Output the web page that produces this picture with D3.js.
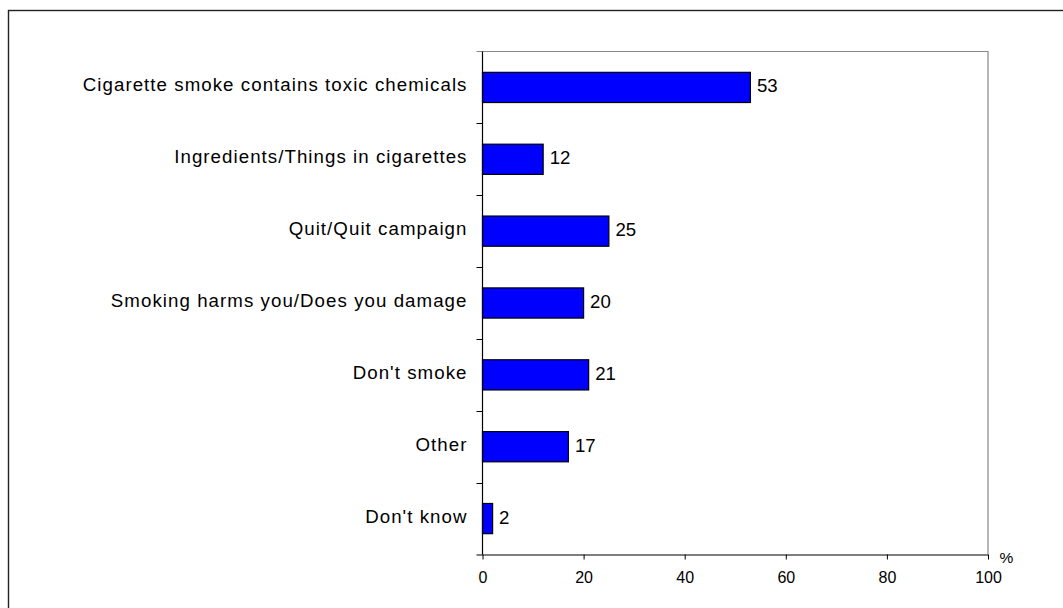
<!DOCTYPE html>
<html>
<head>
<meta charset="utf-8">
<script src="https://cdn.jsdelivr.net/npm/d3@7"></script>
<style>
  html, body { margin: 0; padding: 0; background: #fff; }
  svg { display: block; }
  text { font-family: "Liberation Sans", Arial, sans-serif; }
</style>
</head>
<body>
<svg id="chart" width="1063" height="608"></svg>
<script>
const categories = [
  "Cigarette smoke contains toxic chemicals",
  "Ingredients/Things in cigarettes",
  "Quit/Quit campaign",
  "Smoking harms you/Does you damage",
  "Don't smoke",
  "Other",
  "Don't know"
];
const values = [53, 12, 25, 20, 21, 17, 2];
const xTicks = [0, 20, 40, 60, 80, 100];
const unitLabel = "%";

(function () {
const svg = d3.select("#chart");
const pL = 482.5, pR = 988, pT = 51.5, pB = 554.5;

// outer frame
svg.append("rect")
  .attr("x", 8.5).attr("y", 10.5)
  .attr("width", 1100).attr("height", 700)
  .attr("fill", "none").attr("stroke", "#222").attr("stroke-width", 1.4);

const x = d3.scaleLinear().domain([0, 100]).range([pL, pR]);
const y = d3.scaleBand().domain(categories).range([pT, pB]).paddingInner(0.58).paddingOuter(0.29);

// plot frame (top & right gray)
svg.append("path")
  .attr("d", `M${pL - 6},${pT}H${pR}V${pB}`)
  .attr("fill", "none").attr("stroke", "#888").attr("stroke-width", 1.2);

// bars
svg.append("g").selectAll("rect").data(values).join("rect")
  .attr("x", x(0))
  .attr("y", (d, i) => y(categories[i]))
  .attr("width", d => x(d) - x(0))
  .attr("height", y.bandwidth())
  .attr("fill", "#0000FF")
  .attr("stroke", "#000").attr("stroke-width", 1.2);

// value labels
svg.append("g").selectAll("text").data(values).join("text")
  .attr("x", d => x(d) + 6.5)
  .attr("y", (d, i) => y(categories[i]) + y.bandwidth() / 2 + 5)
  .attr("font-size", 18.6)
  .attr("fill", "#000")
  .text(d => d);

// x axis
const xAxis = d3.axisBottom(x).tickValues(xTicks).tickSize(5).tickPadding(12.5).tickFormat(d3.format("d"));
const gx = svg.append("g").attr("transform", `translate(0,${pB})`).call(xAxis);
gx.select(".domain").attr("d", `M${pL - 6},0.5H${pR}`).attr("stroke", "#000").attr("stroke-width", 1.2);
gx.selectAll(".tick line").attr("stroke", "#000");
gx.selectAll(".tick text").attr("font-size", 16).attr("font-family", "Liberation Sans, Arial, sans-serif").attr("fill", "#000");

// y axis: band-boundary ticks
const boundaries = d3.range(categories.length + 1).map(i => pT + i * (pB - pT) / categories.length);
svg.append("line").attr("x1", pL).attr("x2", pL).attr("y1", pT).attr("y2", pB)
  .attr("stroke", "#000").attr("stroke-width", 1.2);
svg.append("g").selectAll("line").data(boundaries.slice(1, -1)).join("line")
  .attr("x1", pL - 6).attr("x2", pL)
  .attr("y1", d => Math.round(d) + 0.5).attr("y2", d => Math.round(d) + 0.5)
  .attr("stroke", "#000");

// category labels
svg.append("g").selectAll("text").data(categories).join("text")
  .attr("x", pL - 15)
  .attr("y", d => y(d) + y.bandwidth() / 2 + 4)
  .attr("text-anchor", "end")
  .attr("font-size", 18.7)
  .attr("letter-spacing", 1.05)
  .attr("fill", "#000")
  .text(d => d);

// unit label
svg.append("text")
  .attr("x", pR + 11.5).attr("y", pB + 8.5)
  .attr("text-anchor", "start")
  .attr("font-size", 15.5)
  .attr("fill", "#000")
  .text(unitLabel);
})();
</script>
</body>
</html>
